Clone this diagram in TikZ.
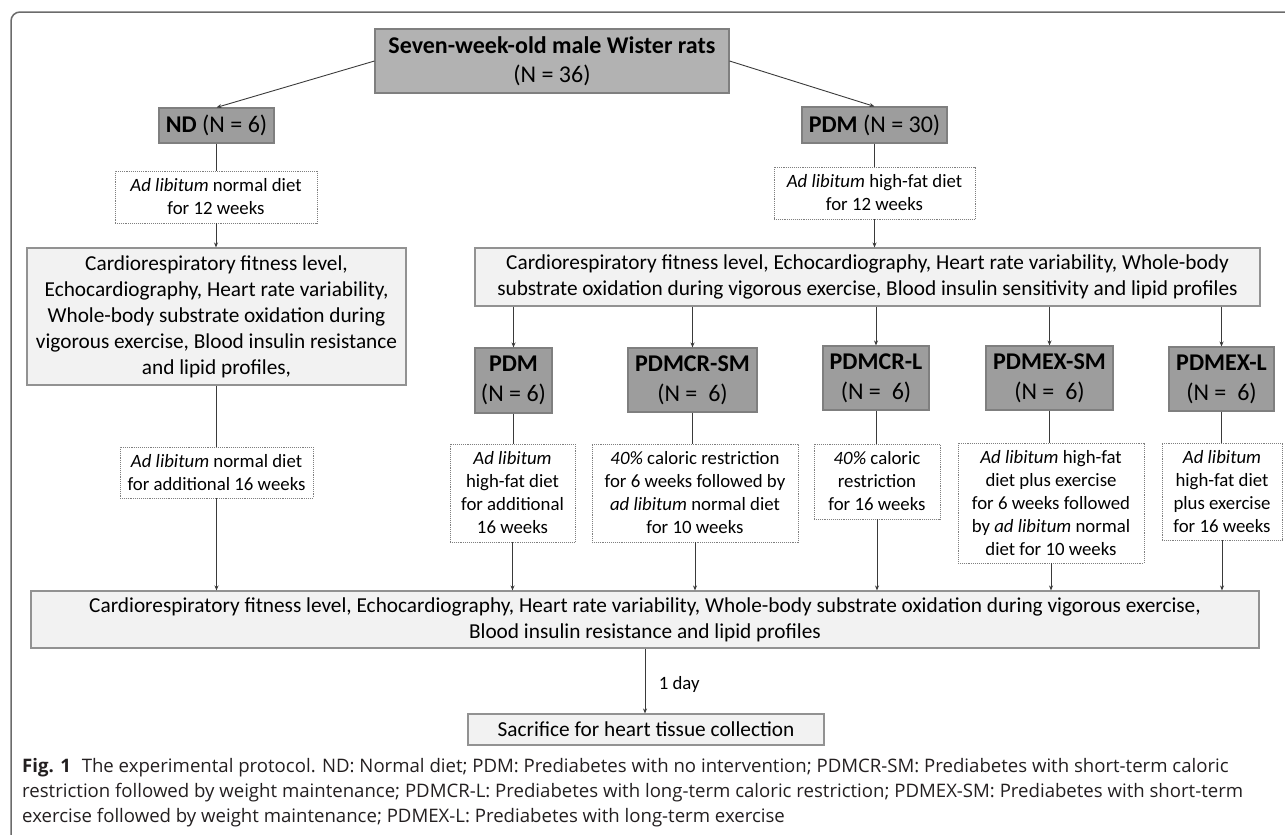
\documentclass[tikz,border=0pt]{standalone}
\usepackage{fontspec}
\setmainfont{Carlito}
\newfontfamily\capfont{Open Sans}
\usetikzlibrary{arrows.meta}

\definecolor{topgray}{HTML}{B2B2B2}
\definecolor{grpgray}{HTML}{9D9D9D}
\definecolor{boxgray}{HTML}{F2F2F2}
\definecolor{edgegray}{HTML}{7F7F7F}
\definecolor{framegray}{HTML}{6B6B6B}
\definecolor{linegray}{HTML}{3A3A3A}
\definecolor{capblack}{HTML}{231F20}

\tikzset{
  sz/.style 2 args={minimum width=#1pt, minimum height=#2pt},
  topbox/.style={draw=edgegray, fill=topgray, line width=1.1pt, align=center, inner sep=0pt, font=\fontsize{24}{29}\selectfont},
  grpbox/.style={draw=edgegray, fill=grpgray, line width=1.1pt, align=center, inner sep=0pt, font=\fontsize{24}{30}\selectfont},
  infobox/.style={draw=edgegray!85, fill=boxgray, line width=1.1pt, align=center, inner sep=0pt, font=\fontsize{21.3}{26}\selectfont},
  dietbox/.style={draw=edgegray, densely dotted, line width=0.9pt, fill=white, align=center, inner sep=0pt, font=\fontsize{18.8}{23}\selectfont},
  arr/.style={draw=linegray, line width=0.9pt, -{Stealth[length=5pt,width=4pt]}},
  link/.style={draw=linegray, line width=0.9pt},
  captxt/.style={anchor=base west, inner sep=0pt, text=capblack, font=\capfont\fontsize{18.6}{22}\selectfont}
}

\begin{document}
\begin{tikzpicture}[x=1pt,y=-1pt]
\useasboundingbox (0,0) rectangle (1285,835);
\draw[framegray, line width=1.5pt, rounded corners=9pt] (1295,12) -- (11,12) -- (11,845);

% start and first split
\node[topbox, sz={354}{64}] (rats) at (552,61) {\textbf{Seven-week-old male Wister rats}\\(N = 36)};
\node[grpbox, sz={115}{35}] (nd) at (216.5,125.5) {\textbf{ND} (N = 6)};
\node[grpbox, sz={145}{36}] (pdm) at (874.5,125) {\textbf{PDM} (N = 30)};
\node[dietbox, sz={202}{52}] (ndfeed) at (216,197) {\textit{Ad libitum} normal diet\\for 12 weeks};
\node[dietbox, sz={201}{52}] (pdmfeed) at (874.5,193) {\textit{Ad libitum} high-fat diet\\for 12 weeks};
\node[infobox, sz={379}{137}] (ndtest) at (216.5,316.5) {Cardiorespiratory fitness level,\\Echocardiography, Heart rate variability,\\Whole-body substrate oxidation during\\vigorous exercise, Blood insulin resistance\\and lipid profiles,};
\node[infobox, sz={785}{58}] (pdmtest) at (867.5,277) {Cardiorespiratory fitness level, Echocardiography, Heart rate variability, Whole-body\\substrate oxidation during vigorous exercise, Blood insulin sensitivity and lipid profiles};

% intervention groups
\node[grpbox, sz={77}{65}] (g1) at (513.5,380.5) {\textbf{PDM}\\(N = 6)};
\node[grpbox, sz={129}{64}] (g2) at (692.5,380) {\textbf{PDMCR-SM}\\(N =\ \ 6)};
\node[grpbox, sz={106}{64}] (g3) at (876,378) {\textbf{PDMCR-L}\\(N =\ \ 6)};
\node[grpbox, sz={127}{64}] (g4) at (1049.5,378) {\textbf{PDMEX-SM}\\(N =\ \ 6)};
\node[grpbox, sz={105}{64}] (g5) at (1221.5,379) {\textbf{PDMEX-L}\\(N =\ \ 6)};

\node[dietbox, sz={193}{51}] (ndkeep) at (216.5,472.5) {\textit{Ad libitum} normal diet\\for additional 16 weeks};
\node[dietbox, sz={125}{98}] (f1) at (512.5,493) {\textit{Ad libitum}\\high-fat diet\\for additional\\16 weeks};
\node[dietbox, sz={206}{98}] (f2) at (695,493) {\textit{40\%} caloric restriction\\for 6 weeks followed by\\\textit{ad libitum} normal diet\\for 10 weeks};
\node[dietbox, sz={126}{75}] (f3) at (877,481.5) {\textit{40\%} caloric\\restriction\\for 16 weeks};
\node[dietbox, sz={186}{120}] (f4) at (1051,503) {\textit{Ad libitum} high-fat\\diet plus exercise\\for 6 weeks followed\\by \textit{ad libitum} normal\\diet for 10 weeks};
\node[dietbox, sz={120}{97}] (f5) at (1222,491.5) {\textit{Ad libitum}\\high-fat diet\\plus exercise\\for 16 weeks};

% end of protocol
\node[infobox, sz={1228}{57}] (final) at (645,619.5) {Cardiorespiratory fitness level, Echocardiography, Heart rate variability, Whole-body substrate oxidation during vigorous exercise,\\Blood insulin resistance and lipid profiles};
\node[infobox, sz={356}{31}] (kill) at (646,729.5) {Sacrifice for heart tissue collection};

\draw[arr] (rats.west) -- (nd.north);
\draw[arr] (rats.east) -- (pdm.north);
\draw[link] (nd.south) -- (nd.south |- ndfeed.north);
\draw[arr] (ndfeed.south) -- (ndfeed.south |- ndtest.north);
\draw[link] (pdm.south) -- (pdm.south |- pdmfeed.north);
\draw[arr] (pdmfeed.south) -- (pdmfeed.south |- pdmtest.north);
\draw[link] (ndtest.south) -- (ndtest.south |- ndkeep.north);
\draw[arr] (ndkeep.south) -- (ndkeep.south |- final.north);
\foreach \g/\f in {g1/f1,g2/f2,g3/f3,g4/f4,g5/f5}{
  \draw[arr] (\g.north |- pdmtest.south) -- (\g.north);
  \draw[link] (\g.south) -- (\g.south |- \f.north);
  \draw[arr] (\f.south) -- (\f.south |- final.north);
}
\draw[arr] (final.south) -- node[right=10pt, pos=0.55, font=\fontsize{18.8}{23}\selectfont] {1 day} (final.south |- kill.north);

% caption
\node[captxt] (cap1) at (22,772) {\textbf{Fig. 1}\hspace{6pt} The experimental protocol. ND: Normal diet; PDM: Prediabetes with no intervention; PDMCR-SM: Prediabetes with short-term caloric};
\node[captxt] (cap2) at (22,797) {restriction followed by weight maintenance; PDMCR-L: Prediabetes with long-term caloric restriction; PDMEX-SM: Prediabetes with short-term};
\node[captxt] (cap3) at (22,822) {exercise followed by weight maintenance; PDMEX-L: Prediabetes with long-term exercise};
\end{tikzpicture}
\end{document}
